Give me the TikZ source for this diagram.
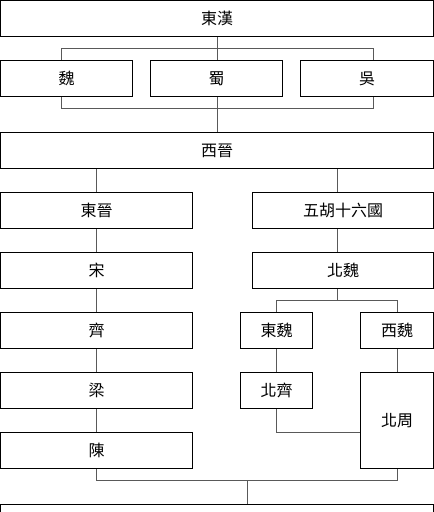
\documentclass[tikz,border=0pt]{standalone}
\usepackage{fontspec}
\newfontfamily\cjk{Noto Sans CJK TC}
\begin{document}
\begin{tikzpicture}[x=1pt,y=-1pt,
  box/.style={draw=black,line width=1pt,rectangle,inner sep=0pt,
    minimum height=36pt,font=\cjk\fontsize{16}{18}\selectfont},
  conn/.style={draw=black!65,line width=1pt}]
\clip (0,0) rectangle (434,512);
\useasboundingbox (0,0) rectangle (434,512);
\fill[white] (0,0) rectangle (434,512);
% boxes
\node[box,minimum width=433pt] (dh) at (217,18.5) {東漢};
\node[box,minimum width=132pt] (wei) at (66.5,78.5) {魏};
\node[box,minimum width=132pt] (shu) at (216.5,78.5) {蜀};
\node[box,minimum width=133pt] (wu) at (367,78.5) {吳};
\node[box,minimum width=433pt] (xj) at (217,150.5) {西晉};
\node[box,minimum width=192pt] (dj) at (96.5,210.5) {東晉};
\node[box,minimum width=181pt] (wh) at (343,210.5) {五胡十六國};
\node[box,minimum width=192pt] (song) at (96.5,270.5) {宋};
\node[box,minimum width=181pt] (bw) at (343,270.5) {北魏};
\node[box,minimum width=192pt] (qi) at (96.5,330.5) {齊};
\node[box,minimum width=72pt] (dw) at (276.5,330.5) {東魏};
\node[box,minimum width=73pt] (xw) at (397,330.5) {西魏};
\node[box,minimum width=192pt] (liang) at (96.5,390.5) {梁};
\node[box,minimum width=72pt] (bq) at (276.5,390.5) {北齊};
\node[box,minimum width=73pt,minimum height=96pt] (bz) at (397,420.5) {北周};
\node[box,minimum width=192pt] (chen) at (96.5,450.5) {陳};
\node[box,minimum width=433pt,minimum height=40pt] (sui) at (217,524.5) {};
% junctions
\coordinate (j1) at (217,48.5);
\coordinate (j2) at (217,108.5);
\coordinate (j3) at (337,300.5);
\coordinate (j4) at (247,480.5);
% connectors
\draw[conn] (dh.south -| j1) -- (j1);
\draw[conn] ([xshift=-5pt]wei.north) |- (j1);
\draw[conn] ([xshift=6pt]wu.north) |- (j1);
\draw[conn] (j1) -- (shu.north -| j1);
\draw[conn] ([xshift=-5pt]wei.south) |- (j2);
\draw[conn] ([xshift=6pt]wu.south) |- (j2);
\draw[conn] (shu.south -| j1) -- (xj.north -| j1);
\draw[conn] (xj.south -| dj) -- (dj.north);
\draw[conn] ([xshift=-6pt]xj.south -| wh) -- ([xshift=-6pt]wh.north);
\draw[conn] (dj) -- (song);
\draw[conn] (song) -- (qi);
\draw[conn] (qi) -- (liang);
\draw[conn] (liang) -- (chen);
\draw[conn] ([xshift=-6pt]wh.south) -- ([xshift=-6pt]bw.north);
\draw[conn] ([xshift=-6pt]bw.south) -- (j3);
\draw[conn] (dw.north) |- (j3);
\draw[conn] (xw.north) |- (j3);
\draw[conn] (dw) -- (bq);
\draw[conn] (xw.south) -- (bz.north);
\draw[conn] (bq.south) |- (bz.west |- 0,432.5);
\draw[conn] (chen.south) |- (j4);
\draw[conn] (bz.south) |- (j4);
\draw[conn=black] (j4) -- (sui.north -| j4);
\end{tikzpicture}
\end{document}
